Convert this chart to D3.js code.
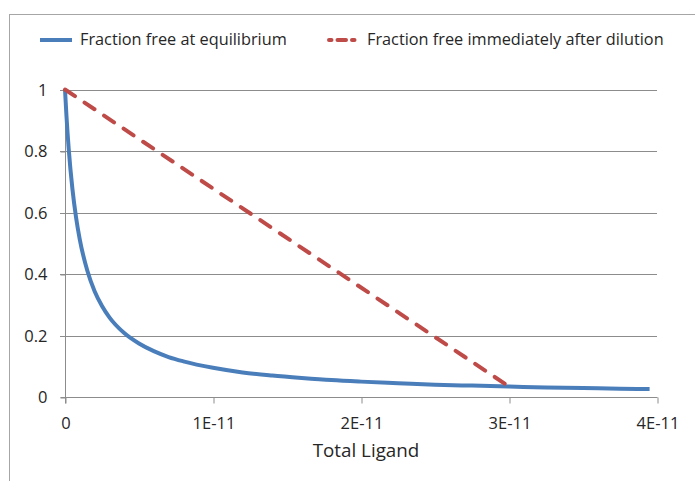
<!DOCTYPE html>
<html>
<head>
<meta charset="utf-8">
<script src="https://cdn.jsdelivr.net/npm/d3@7"></script>
<style>
  body { margin: 0; background: #fff; }
  text { font-family: "Open Sans", Lato, sans-serif; fill: #262626; }
</style>
</head>
<body>
<div id="chart"></div>
<script>
// total ligand (M) and fraction free
var ligand = [0, 0.1e-12, 0.25e-12, 0.5e-12, 0.75e-12, 1e-12, 1.5e-12, 2e-12, 2.5e-12, 3e-12,
  4e-12, 5e-12, 6e-12, 7e-12, 8e-12, 10e-12, 12e-12, 14e-12, 16e-12, 18e-12,
  20e-12, 22.5e-12, 25e-12, 27.5e-12, 30e-12, 32.5e-12, 35e-12, 37.5e-12, 39.5e-12];
var fracEquilibrium = [1, 0.913, 0.808, 0.677, 0.583, 0.512, 0.412, 0.344, 0.296, 0.259,
  0.208, 0.174, 0.149, 0.130, 0.116, 0.095, 0.080, 0.070, 0.062, 0.055,
  0.050, 0.045, 0.040, 0.037, 0.034, 0.031, 0.029, 0.027, 0.026];

var dilutionLigand = [0, 3e-11];
var fracDilution = [1, 0.034];

var seriesNames = ["Fraction free at equilibrium", "Fraction free immediately after dilution"];
var xTicks = [0, 1e-11, 2e-11, 3e-11, 4e-11];
var xTickLabels = ["0", "1E-11", "2E-11", "3E-11", "4E-11"];
var yTicks = [0, 0.2, 0.4, 0.6, 0.8, 1];
var yTickLabels = ["0", "0.2", "0.4", "0.6", "0.8", "1"];
var xTitle = "Total Ligand";

var width = 695, height = 481;
var blue = "#4a7ebb", red = "#be4b48", grid = "#8c8c8c";

var svg = d3.select("#chart").append("svg")
  .attr("width", width)
  .attr("height", height);

// outer chart frame (runs off the right and bottom edges)
svg.append("rect")
  .attr("x", 9.5).attr("y", 14.5)
  .attr("width", 720).attr("height", 520)
  .attr("fill", "#fff")
  .attr("stroke", "#a6a6a6");

var x = d3.scaleLinear().domain([0, 4e-11]).range([65, 657]);
var y = d3.scaleLinear().domain([0, 1]).range([397, 89.5]);

// gridlines
svg.append("g")
  .selectAll("line")
  .data(yTicks.slice(1)).enter()
  .append("line")
  .attr("x1", 60).attr("x2", x(4e-11))
  .attr("y1", d => Math.round(y(d)) + 0.5)
  .attr("y2", d => Math.round(y(d)) + 0.5)
  .attr("stroke", grid)
  .attr("stroke-width", 1);

// y axis
var yAxis = d3.axisLeft(y)
  .tickValues(yTicks)
  .tickFormat((d, i) => yTickLabels[i])
  .tickSize(5)
  .tickPadding(13);
var gy = svg.append("g")
  .attr("transform", "translate(65.5,0.5)")
  .call(yAxis);
gy.select(".domain").attr("stroke", grid).attr("d", "M0," + y(1) + "V" + (y(0) + 6));
gy.selectAll(".tick line").attr("stroke", grid);
gy.selectAll(".tick text")
  .style("font-family", "'Open Sans', sans-serif")
  .style("font-size", "16.5px")
  .attr("fill", "#262626");

// x axis
var xAxis = d3.axisBottom(x)
  .tickValues(xTicks)
  .tickFormat((d, i) => xTickLabels[i])
  .tickSize(6)
  .tickPadding(14);
var gx = svg.append("g")
  .attr("transform", "translate(0.5," + (Math.round(y(0)) + 0.5) + ")")
  .call(xAxis);
gx.select(".domain").attr("stroke", grid).attr("d", "M60,0H" + x(4e-11));
gx.selectAll(".tick line").attr("stroke", grid);
gx.selectAll(".tick text")
  .style("font-family", "'Open Sans', sans-serif")
  .style("font-size", "16.5px")
  .attr("fill", "#262626");

svg.append("text")
  .attr("x", 366).attr("y", 457)
  .attr("text-anchor", "middle")
  .style("font-size", "18.8px")
  .text(xTitle);

// series
var line = d3.line()
  .x(d => x(d[0]))
  .y(d => y(d[1]))
  .curve(d3.curveMonotoneX);

svg.append("path")
  .datum(ligand.map((v, i) => [v, fracEquilibrium[i]]))
  .attr("d", line)
  .attr("fill", "none")
  .attr("stroke", blue)
  .attr("stroke-width", 4)
  .attr("stroke-linejoin", "round");

svg.append("path")
  .datum(dilutionLigand.map((v, i) => [v, fracDilution[i]]))
  .attr("d", d3.line().x(d => x(d[0])).y(d => y(d[1])))
  .attr("fill", "none")
  .attr("stroke", red)
  .attr("stroke-width", 4)
  .attr("stroke-linecap", "round")
  .attr("stroke-dasharray", "12,11.5");

// legend
var legend = svg.append("g").attr("transform", "translate(0,40)");
var items = legend.selectAll("g")
  .data(seriesNames).enter()
  .append("g")
  .attr("transform", (d, i) => "translate(" + [40, 327][i] + ",0)");
items.append("line")
  .attr("x1", (d, i) => i ? 2 : 0).attr("x2", (d, i) => i ? 30 : 32)
  .attr("y1", 0).attr("y2", 0)
  .attr("stroke", (d, i) => i ? red : blue)
  .attr("stroke-width", 4)
  .attr("stroke-linecap", (d, i) => i ? "round" : "butt")
  .attr("stroke-dasharray", (d, i) => i ? "2.5,6,8.5,6,2.5,10" : null);
items.append("text")
  .attr("x", 40).attr("y", -1).attr("dy", "0.35em")
  .style("font-size", "16.3px")
  .text(d => d);
</script>
</body>
</html>
